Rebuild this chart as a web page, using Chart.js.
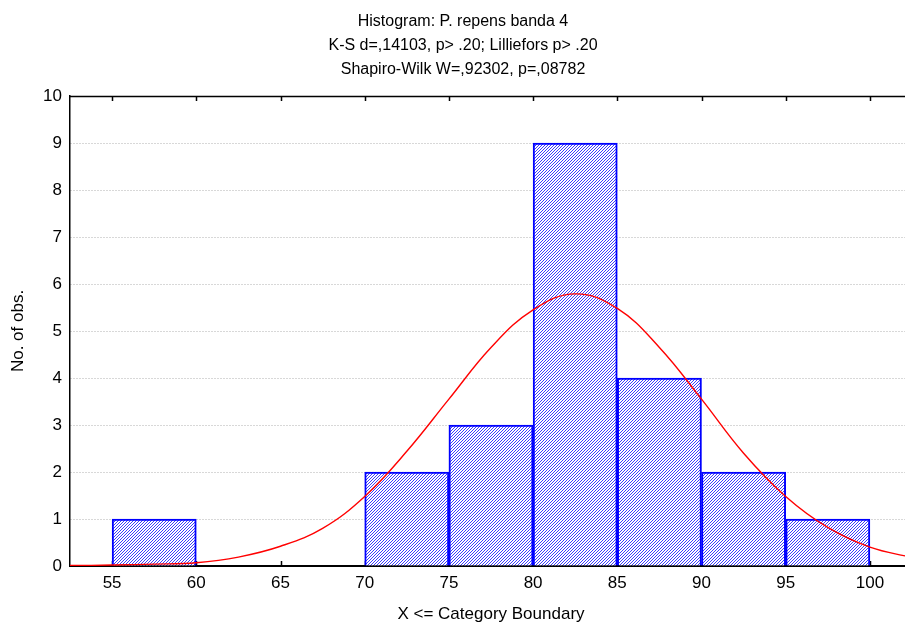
<!DOCTYPE html>
<html>
<head>
<meta charset="utf-8">
<script src="https://cdn.jsdelivr.net/npm/chart.js@4/dist/chart.umd.min.js"></script>
<style>
html,body{margin:0;padding:0;background:#fff;overflow:hidden;}
#wrap{width:905px;height:625px;position:relative;overflow:hidden;}
</style>
</head>
<body>
<div id="wrap"><canvas id="c" width="912" height="625"></canvas></div>
<script>
// ---- data ----
const titleLines = ["Histogram: P. repens banda 4", "K-S d=,14103, p> .20; Lilliefors p> .20", "Shapiro-Wilk W=,92302, p=,08782"];
const binUpper = [60, 75, 80, 85, 90, 95, 100];
const binWidth = 5;
const counts = [1, 2, 3, 9, 4, 2, 1];
const curveX = [52.5, 55, 57.5, 60, 62.5, 65, 67.5, 70, 72.5, 75, 77.5, 80, 82.5, 85, 87.5, 90, 92.5, 95, 97.5, 100, 102.5];
const curveY = [0.01, 0.02, 0.04, 0.07, 0.19, 0.42, 0.8, 1.48, 2.44, 3.55, 4.65, 5.45, 5.79, 5.48, 4.65, 3.55, 2.4, 1.48, 0.82, 0.4, 0.18];
const xTicks = [55, 60, 65, 70, 75, 80, 85, 90, 95, 100];
const xMin = 52.5, xMax = 102.5;
const yMin = 0, yMax = 10;
const xTitle = "X <= Category Boundary";
const yTitle = "No. of obs.";

const FONT = "'Liberation Sans', Arial, sans-serif";

// hatch pattern
function makeHatch() {
  const p = document.createElement('canvas');
  p.width = 3; p.height = 3;
  const g = p.getContext('2d');
  g.fillStyle = '#ffffff';
  g.fillRect(0, 0, 3, 3);
  g.fillStyle = '#3c3cff';
  g.fillRect(2, 0, 1, 1);
  g.fillRect(1, 1, 1, 1);
  g.fillRect(0, 2, 1, 1);
  return g.createPattern(p, 'repeat');
}
const hatch = makeHatch();

const barData = binUpper.map((u, i) => ({x: u - binWidth / 2, y: counts[i]}));
const lineData = curveX.map((x, i) => ({x: x, y: curveY[i]}));

const framePlugin = {
  id: 'frame',
  beforeDatasetsDraw(chart) {
    const {ctx, chartArea, scales} = chart;
    const xs = scales.x;
    ctx.save();
    ctx.strokeStyle = '#000';
    ctx.lineWidth = 1.5;
    ctx.beginPath();
    xTicks.forEach(v => {
      const px = Math.round(xs.getPixelForValue(v)) + 0.5;
      ctx.moveTo(px, chartArea.top); ctx.lineTo(px, chartArea.top + 5);
      ctx.moveTo(px, chartArea.bottom); ctx.lineTo(px, chartArea.bottom - 5);
    });
    ctx.stroke();
    ctx.restore();
  },
  afterDraw(chart) {
    const {ctx, chartArea} = chart;
    ctx.save();
    ctx.strokeStyle = '#000';
    ctx.lineWidth = 1.5;
    ctx.beginPath();
    ctx.moveTo(chartArea.left, chartArea.top + 0.5);
    ctx.lineTo(chartArea.right, chartArea.top + 0.5);
    ctx.stroke();
    ctx.fillStyle = '#000';
    ctx.font = "16px " + FONT;
    ctx.textAlign = 'center';
    ctx.textBaseline = 'middle';
    titleLines.forEach((t, i) => ctx.fillText(t, 463, 22 + i * 24));
    ctx.restore();
  }
};

new Chart(document.getElementById('c'), {
  type: 'bar',
  data: {
    datasets: [
      {
        type: 'line',
        data: lineData,
        borderColor: '#ff0000',
        borderWidth: 1.4,
        pointRadius: 0,
        fill: false,
        tension: 0.4,
        order: 0
      },
      {
        type: 'bar',
        data: barData,
        backgroundColor: hatch,
        borderColor: '#0000ff',
        borderWidth: 2,
        barPercentage: 1,
        categoryPercentage: 1,
        order: 1
      }
    ]
  },
  options: {
    responsive: false,
    animation: false,
    devicePixelRatio: 1,
    layout: {padding: {top: 96, right: 0, left: 0, bottom: 0}},
    plugins: {legend: {display: false}, tooltip: {enabled: false}, title: {display: false}},
    scales: {
      x: {
        type: 'linear',
        offset: false,
        min: xMin, max: xMax,
        afterBuildTicks: s => { s.ticks = xTicks.map(v => ({value: v})); },
        afterFit: s => { s.height = 59; },
        ticks: {color: '#000', font: {family: FONT, size: 17}, padding: 7, autoSkip: false, maxRotation: 0},
        grid: {display: false, drawTicks: false, offset: false},
        border: {display: true, color: '#000', width: 2},
        title: {display: true, text: xTitle, color: '#000', font: {family: FONT, size: 17, lineHeight: 1.2}, padding: 0}
      },
      y: {
        min: yMin, max: yMax,
        afterFit: s => { s.width = 70; },
        ticks: {stepSize: 1, color: '#000', font: {family: FONT, size: 17}, padding: 8},
        grid: {drawTicks: false, color: '#b0b0b0', lineWidth: 1},
        border: {display: true, color: '#000', width: 1.5, dash: [1, 2]},
        title: {display: true, text: yTitle, color: '#000', font: {family: FONT, size: 17, lineHeight: 1.2}, padding: {top: 8, bottom: 0}}
      }
    }
  },
  plugins: [framePlugin]
});
</script>
</body>
</html>
